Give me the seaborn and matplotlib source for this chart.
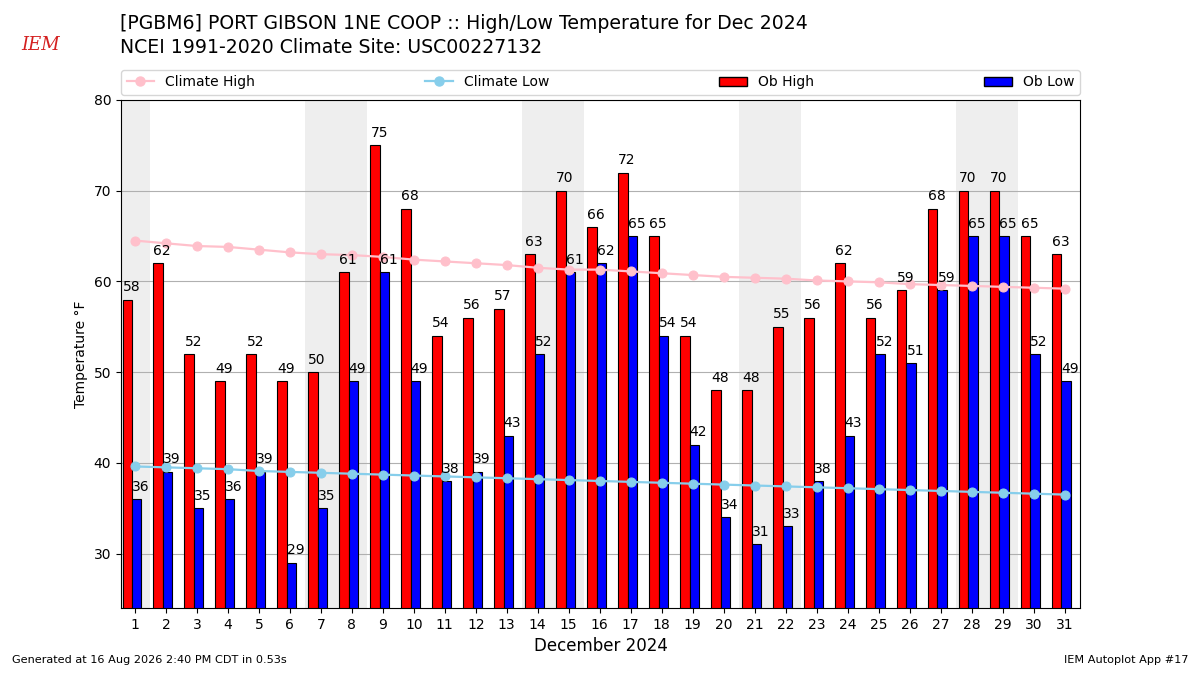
import matplotlib
matplotlib.use("Agg")
import numpy as np
import pandas as pd
import matplotlib.pyplot as plt
import seaborn as sns
from matplotlib.patches import Patch
from matplotlib.lines import Line2D

# data
days = list(range(1, 32))
ob_high = [58, 62, 52, 49, 52, 49, 50, 61, 75, 68, 54, 56, 57, 63, 70, 66,
           72, 65, 54, 48, 48, 55, 56, 62, 56, 59, 68, 70, 70, 65, 63]
ob_low = [36, 39, 35, 36, 39, 29, 35, 49, 61, 49, 38, 39, 43, 52, 61, 62,
          65, 54, 42, 34, 31, 33, 38, 43, 52, 51, 59, 65, 65, 52, 49]
clim_high = [64.5, 64.2, 63.9, 63.8, 63.5, 63.2, 63.0, 62.9, 62.7, 62.4, 62.2,
             62.0, 61.8, 61.5, 61.3, 61.3, 61.1, 60.9, 60.7, 60.5, 60.4, 60.3,
             60.1, 60.0, 59.9, 59.7, 59.6, 59.5, 59.4, 59.3, 59.2]
clim_low = [39.6, 39.5, 39.4, 39.3, 39.1, 39.0, 38.9, 38.8, 38.7, 38.6, 38.5,
            38.4, 38.3, 38.2, 38.1, 38.0, 37.9, 37.8, 37.7, 37.6, 37.5, 37.4,
            37.3, 37.2, 37.1, 37.0, 36.9, 36.8, 36.7, 36.6, 36.5]
weekend_days = [1, 7, 8, 14, 15, 21, 22, 28, 29]

df = pd.DataFrame({"day": days, "high": ob_high, "low": ob_low,
                   "chigh": clim_high, "clow": clim_low})

fig = plt.figure(figsize=(12, 6.75), dpi=100)
ax = fig.add_axes([0.1008, 0.0993, 0.7992, 0.7526])

# weekend shading
for d in weekend_days:
    ax.axvspan(d - 0.5, d + 0.5, color="#eeeeee", zorder=0, lw=0)

ax.grid(axis="y", color="#b0b0b0", lw=0.8, zorder=1)
ax.set_axisbelow(True)

x = df["day"].to_numpy()
bh = ax.bar(x - 0.4, df["high"], width=0.3, align="edge", color="red",
            edgecolor="black", lw=0.8, zorder=2)
bl = ax.bar(x - 0.1, df["low"], width=0.3, align="edge", color="blue",
            edgecolor="black", lw=0.8, zorder=2)

sns.lineplot(data=df, x="day", y="chigh", ax=ax, color="pink", marker="o",
             markersize=6.5, mec="pink", lw=1.6, zorder=3)
sns.lineplot(data=df, x="day", y="clow", ax=ax, color="skyblue", marker="o",
             markersize=6.5, mec="skyblue", lw=1.6, zorder=3)

for rect, v in zip(bh, ob_high):
    ax.text(rect.get_x(), v + 0.6, f"{v}", ha="left", va="bottom",
            fontsize=10, zorder=4)
for rect, v in zip(bl, ob_low):
    ax.text(rect.get_x(), v + 0.6, f"{v}", ha="left", va="bottom",
            fontsize=10, zorder=4)

ax.set_xlim(0.55, 31.5)
ax.set_ylim(24, 80)
ax.set_xticks(days)
ax.set_xticklabels([str(d) for d in days], fontsize=10)
ax.tick_params(axis="y", labelsize=10)
ax.set_xlabel("December 2024", fontsize=12)
ax.set_ylabel("Temperature °F", fontsize=10)

handles = [
    Line2D([], [], color="pink", marker="o", markersize=6.5, lw=1.6),
    Line2D([], [], color="skyblue", marker="o", markersize=6.5, lw=1.6),
    Patch(facecolor="red", edgecolor="black"),
    Patch(facecolor="blue", edgecolor="black"),
]
ax.legend(handles, ["Climate High", "Climate Low", "Ob High", "Ob Low"],
          loc="lower left", bbox_to_anchor=(0, 1.01, 1, 0.05), mode="expand",
          ncol=4, fontsize=10, borderaxespad=0)

fig.text(0.1, 0.965, "[PGBM6] PORT GIBSON 1NE COOP :: High/Low Temperature for Dec 2024",
         fontsize=13.6, va="center")
fig.text(0.1, 0.93, "NCEI 1991-2020 Climate Site: USC00227132",
         fontsize=13.6, va="center")
fig.text(0.018, 0.933, "IEM", fontsize=13, color="#d42020", style="italic",
         family="serif", va="center")
fig.text(0.01, 0.015, "Generated at 16 Aug 2026 2:40 PM CDT in 0.53s",
         fontsize=8.1, va="bottom")
fig.text(0.99, 0.015, "IEM Autoplot App #17", fontsize=8.1, ha="right",
         va="bottom")

fig.savefig("out.png", dpi=100)
